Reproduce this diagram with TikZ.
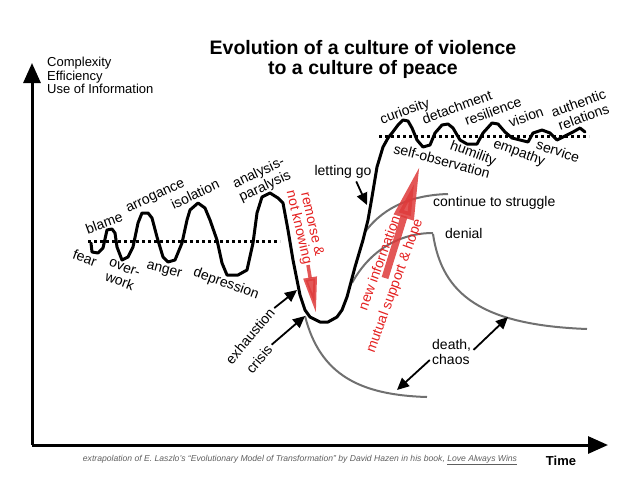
\documentclass[tikz,border=0pt]{standalone}
\usepackage{fontspec}
\setmainfont{Liberation Sans}
\usetikzlibrary{arrows.meta}

\definecolor{warnred}{RGB}{228,32,32}
\definecolor{arrred}{RGB}{222,58,58}
\definecolor{fategray}{RGB}{112,112,112}
\definecolor{notegray}{RGB}{95,95,95}

\begin{document}
\begin{tikzpicture}[x=1pt,y=-1pt,
    lbl/.style={inner sep=0pt, font=\fontsize{14}{15}\selectfont, align=center},
    redlbl/.style={lbl, text=warnred},
    axis/.style={line width=3pt, -{Triangle[length=20pt,width=17pt]}},
    pointer/.style={line width=1.8pt, -{Triangle[length=12pt,width=11pt]}, shorten <=3pt},
    fate/.style={fategray, line width=2pt},
    level/.style={line width=3pt, dash pattern=on 3pt off 3pt},
    redarrow/.style={arrred, opacity=0.85}]
    \useasboundingbox (0,0) rectangle (640,491);

    % axes
    \coordinate (O) at (32,445);
    \coordinate (Y_tip) at (32,63);
    \coordinate (X_tip) at (608,445);
    \draw[axis] (O) -- (Y_tip);
    \draw[axis] (O) -- (X_tip);
    \node[anchor=west, align=left, inner sep=0pt,
          font=\fontsize{13}{13.5}\selectfont] (yname) at (47,75.5)
          {Complexity\\Efficiency\\Use of Information};
    \node[inner sep=0pt, font=\fontsize{13}{13}\selectfont\bfseries] (tname) at (561,461) {Time};
    \node[align=center, inner sep=0pt, font=\fontsize{19.5}{20}\selectfont\bfseries] (title) at (363,59)
          {Evolution of a culture of violence\\to a culture of peace};
    \node[inner sep=0pt, text=notegray, font=\fontsize{8.6}{9}\selectfont\itshape] (credit) at (300,460)
          {extrapolation of E. Laszlo’s “Evolutionary Model of Transformation” by David Hazen in his book, \underline{Love Always Wins}};

    % mean levels
    \draw[level] (88,241) -- (280,241);
    \draw[level] (379,136) -- (589,136);

    % the other outcomes
    \coordinate (crisis_tip) at (305,316);
    \coordinate (struggle_0) at (365,232);
    \coordinate (denial_0) at (352,283);
    \draw[fate] (crisis_tip) .. controls (320,375) and (360,395) .. (427,397);
    \draw[fate] (struggle_0) .. controls (385,205) and (415,195) .. (448,194);
    \draw[fate] (denial_0) .. controls (370,250) and (400,233) .. (433,233);
    \draw[fate] (433,234) .. controls (442,295) and (482,325) .. (587,329);

    % the culture curve
    \draw[line width=3pt, line join=round, line cap=round] plot coordinates {
        (91,243) (92,252) (98,253) (103,248) (107,230) (112,229) (115,233)
        (117,247) (122,260) (128,257) (133,247) (138,223) (142,213) (148,213)
        (152,218) (157,237) (163,257) (168,262) (175,260) (182,243) (187,220)
        (190,210) (198,203) (205,208) (210,220) (217,240) (222,263) (227,275)
        (238,275) (247,270) (253,243) (257,213) (262,197) (270,193) (278,198)
        (283,203) (288,230) (293,260) (300,295) (305,310) (310,317) (320,322)
        (328,322) (337,317) (342,310) (347,297) (355,267) (363,240) (368,220)
        (372,197) (377,167) (383,147) (388,138) (392,133) (398,125) (403,120)
        (408,121) (412,128) (417,140) (423,147) (430,145) (435,133) (442,125)
        (448,124) (453,128) (460,140) (467,144) (477,144) (483,133) (492,123)
        (498,124) (505,132) (512,138) (520,140) (528,142) (533,133) (542,130)
        (550,133) (557,140) (563,137) (573,132) (580,128) (585,132)};

    % red arrows
    \coordinate (rem_a) at (308,265);
    \coordinate (rem_b) at (316,313);
    \coordinate (info_a) at (385,278);
    \coordinate (info_b) at (420,165);
    \draw[redarrow, line width=3.5pt, -{Triangle[length=36pt,width=13pt]}] (rem_a) -- (rem_b);
    \draw[redarrow, line width=7pt, -{Triangle[length=55pt,width=19pt]}] (info_a) -- (info_b);
    \node[redlbl, rotate=-77, font=\fontsize{14}{13.5}\selectfont] (remorse) at (305,226) {remorse \&\\not knowing};
    \node[redlbl, rotate=70] (newinfo) at (379,263) {new information};
    \node[redlbl, rotate=70] (support) at (395,286) {mutual support \& hope};

    % labels along the first wave
    \foreach \pos/\txt/\ang [count=\ii] in {
        {85,258}/fear/-20, {122,275}/{over-\\work}/-20, {164,271}/anger/-15,
        {226,284}/depression/-20, {104,223}/blame/20, {156,197}/arrogance/25,
        {195,194}/isolation/25, {262,180}/{analysis-\\paralysis}/25}{
        \node[lbl, rotate=\ang] (L_0_\ii) at (\pos) {\txt};
    }
    % labels along the second wave
    \foreach \pos/\txt/\ang [count=\ii] in {
        {405,112}/curiosity/20, {457,107}/detachment/20, {493,111}/resilience/20,
        {526,117}/vision/20, {581,110}/{authentic\\relations}/20,
        {442,161}/self-observation/-15, {473,154}/humility/-20,
        {519,153}/empathy/-20, {558,151}/service/-18}{
        \node[lbl, rotate=\ang] (L_1_\ii) at (\pos) {\txt};
    }

    % pointers
    \coordinate (exh_tip) at (297,290);
    \coordinate (letgo_tip) at (367,205);
    \coordinate (death_up) at (508,317);
    \coordinate (death_low) at (397,390);
    \node[lbl, rotate=50] (exh) at (250,336) {exhaustion};
    \node[lbl, rotate=50] (crisis) at (259,359) {crisis};
    \node[lbl] (letgo) at (343,172) {letting go};
    \node[lbl, anchor=west] (struggle) at (433,203) {continue to struggle};
    \node[lbl, anchor=west] (denial) at (445,233) {denial};
    \node[lbl, anchor=west, align=left] (death) at (432,352) {death,\\chaos};
    \draw[pointer] (exh.east) -- (exh_tip);
    \draw[pointer] (crisis.east) -- (crisis_tip);
    \draw[pointer] ([xshift=12pt]letgo.south) -- (letgo_tip);
    \draw[pointer] (death.east) -- (death_up);
    \draw[pointer] ([yshift=-6pt]death.west) -- (death_low);
\end{tikzpicture}
\end{document}
